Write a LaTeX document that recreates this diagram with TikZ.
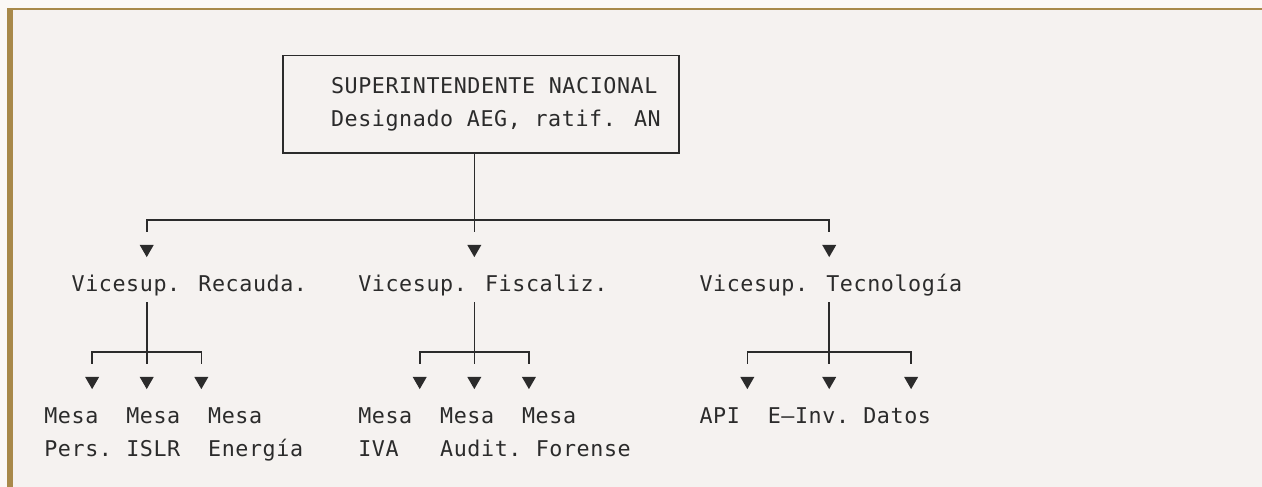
\documentclass[tikz,border=0pt]{standalone}
\usepackage{fontspec}
\newfontfamily\codefont[LetterSpace=2.7]{DejaVu Sans Mono}
\usetikzlibrary{shapes.geometric}
\definecolor{ink}{HTML}{2B2B2B}
\definecolor{pagebg}{HTML}{FBF8F6}
\definecolor{codebg}{HTML}{F5F2F0}
\definecolor{gold}{HTML}{A8894A}
\begin{document}
\begin{tikzpicture}[x=1pt,y=-1pt,
  txt/.style={font=\codefont\fontsize{21.7pt}{33pt}\selectfont, text=ink, inner sep=0pt, outer sep=0pt, anchor=base west, align=left},
  ln/.style={draw=ink, line width=1.6pt},
  tri/.style={regular polygon, regular polygon sides=3, shape border rotate=180, fill=ink, draw=none, minimum size=16.2pt, inner sep=0pt, outer sep=0pt},
  boxst/.style={draw=ink, line width=1.6pt, minimum width=395.85pt, minimum height=97pt, inner sep=0pt, outer sep=0pt}]
\useasboundingbox (0,0) rectangle (1262,487);
\fill[pagebg] (0,0) rectangle (1262,487);
\fill[gold] (7,8) rectangle (1262,10);
\fill[gold] (7,8) rectangle (13,487);
\fill[codebg] (13,10) rectangle (1262,487);
% top box (two-line nodes are placed by the baseline of their last line)
\node[boxst] (sup) at (481.15,104.2) {};
\node[txt] (supt) at (331.0,126.6) {SUPERINTENDENTE NACIONAL\\Designado AEG, ratif. AN};
% first-level arrowheads
\node[tri] (tR) at (146.725,249) {};
\node[tri] (tF) at (474.325,249) {};
\node[tri] (tT) at (829.225,249) {};
% vice superintendencies
\node[txt] (vR) at (71.65,291.6) {Vicesup. Recauda.};
\node[txt] (vF) at (358.3,291.6) {Vicesup. Fiscaliz.};
\node[txt] (vT) at (699.55,291.6) {Vicesup. Tecnología};
% second-level arrowheads
\node[tri] (a1) at (92.125,381) {};
\node[tri] (a2) at (146.725,381) {};
\node[tri] (a3) at (201.325,381) {};
\node[tri] (b1) at (419.725,381) {};
\node[tri] (b2) at (474.325,381) {};
\node[tri] (b3) at (528.925,381) {};
\node[tri] (c1) at (747.325,381) {};
\node[tri] (c2) at (829.225,381) {};
\node[tri] (c3) at (911.125,381) {};
% leaves
\node[txt] (m1) at (44.35,456.6) {Mesa\\Pers.};
\node[txt] (m2) at (126.25,456.6) {Mesa\\ISLR};
\node[txt] (m3) at (208.15,456.6) {Mesa\\Energía};
\node[txt] (m4) at (358.3,456.6) {Mesa\\IVA};
\node[txt] (m5) at (440.2,456.6) {Mesa\\Audit.};
\node[txt] (m6) at (522.1,456.6) {Mesa\\\hspace*{13.65pt}Forense};
\node[txt] (m7) at (699.55,423.6) {API};
\node[txt] (m8) at (767.8,423.6) {E–Inv.};
\node[txt] (m9) at (863.35,423.6) {Datos};
% connectors level 1
\coordinate (j0) at (474.325,220);
\draw[ln, shorten >=13pt] (sup.south -| tF) -- (tF.north);
\draw[ln, shorten >=13pt] (j0) -| (tR.north);
\draw[ln, shorten >=13pt] (j0) -| (tT.north);
% connectors level 2
\coordinate (j1) at (146.725,352);
\coordinate (j2) at (474.325,352);
\coordinate (j3) at (829.225,352);
\draw[ln, shorten <=6pt, shorten >=13pt] (vR.south -| a2) -- (a2.north);
\draw[ln, shorten >=13pt] (j1) -| (a1.north);
\draw[ln, shorten >=13pt] (j1) -| (a3.north);
\draw[ln, shorten <=6pt, shorten >=13pt] (vF.south -| b2) -- (b2.north);
\draw[ln, shorten >=13pt] (j2) -| (b1.north);
\draw[ln, shorten >=13pt] (j2) -| (b3.north);
\draw[ln, shorten <=6pt, shorten >=13pt] (vT.south -| c2) -- (c2.north);
\draw[ln, shorten >=13pt] (j3) -| (c1.north);
\draw[ln, shorten >=13pt] (j3) -| (c3.north);
\end{tikzpicture}
\end{document}
